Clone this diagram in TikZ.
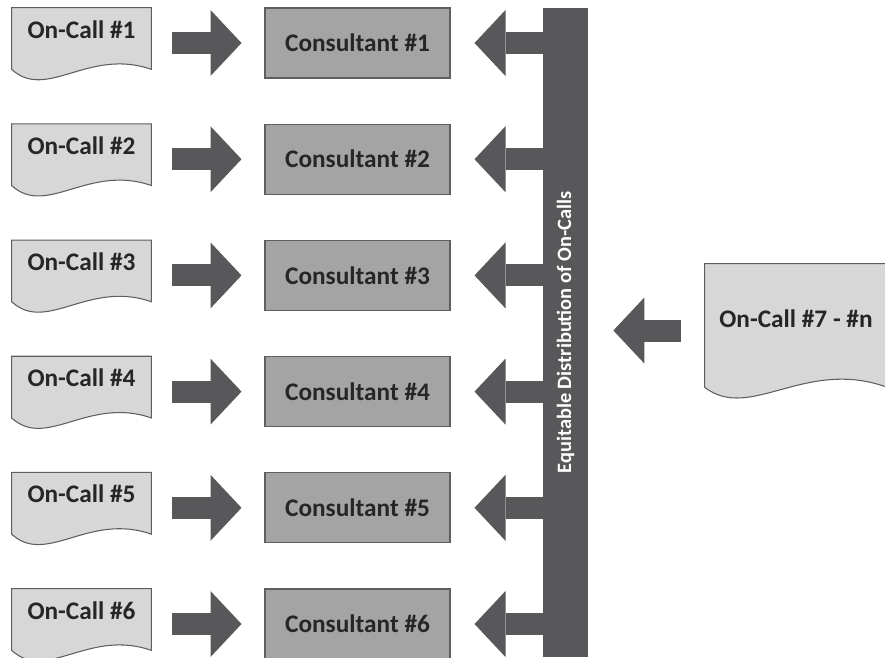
\documentclass[tikz,border=0pt]{standalone}
\usepackage{fontspec}
\setmainfont{Carlito}
\usetikzlibrary{arrows.meta,calc,backgrounds}

\definecolor{docgray}{HTML}{D7D7D7}
\definecolor{boxgray}{HTML}{A4A4A4}
\definecolor{darkgray}{HTML}{58585A}
\definecolor{edgegray}{HTML}{5E5E5E}
\definecolor{inkgray}{HTML}{262626}

\tikzset{
  oncall/.style={inner sep=0pt, minimum width=2.78cm, text height=0.6cm, text depth=0.8cm,
    font=\bfseries\fontsize{14.4}{16}\selectfont, text=inkgray},
  consultant/.style={draw=edgegray, line width=0.6pt, fill=boxgray, inner sep=0pt,
    minimum width=3.7cm, minimum height=1.4cm, font=\bfseries\fontsize{14.4}{16}\selectfont, text=inkgray},
  docshape/.style={draw=edgegray, line width=0.6pt, fill=docgray},
  bar/.style={fill=darkgray, inner sep=0pt, minimum width=0.9cm, minimum height=12.98cm},
  barlabel/.style={text=white, inner sep=0pt, font=\bfseries\fontsize{11.6}{13}\selectfont},
  fatarrow/.style={draw=darkgray, line width=0.44cm,
    -{Triangle[width=1.32cm, length=0.62cm, line width=0pt]}}
}

\begin{document}
\begin{tikzpicture}[x=0.02cm, y=-0.02cm]
  \useasboundingbox (0,0) rectangle (885,657);

  % distribution bar
  \node[bar] (bar) at (565.5,332.5) {};

  \foreach \i in {1,...,6} {
    \pgfmathsetmacro\y{43+116.2*(\i-1)}
    \node[oncall] (oc\i) at (81.5,\y) {On-Call \#\i};
    \node[consultant] (c\i) at (357.5,\y) {Consultant \#\i};
    \draw[fatarrow, shorten <=0.42cm, shorten >=0.46cm] (oc\i.east) -- (c\i.west);
    \draw[fatarrow, shorten >=0.48cm] (bar.center |- c\i.east) -- (c\i.east);
  }

  \node[barlabel, rotate=90] (barname) at (bar.center) {Equitable Distribution of On-Calls};

  % the rest of the on-calls
  \node[oncall, minimum width=3.64cm, text height=1.26cm, text depth=1.4cm] (oc7) at (796,330.5) {On-Call \#7 - \#n};
  \draw[fatarrow, shorten <=0.48cm, shorten >=0.5cm] (oc7.west) -- (bar.east |- oc7.west);

  \begin{scope}[on background layer]
    \foreach \i in {1,...,6}
      \path[docshape] (oc\i.north west) -- (oc\i.north east) -- ($(oc\i.south east)+(0,-9)$)
        .. controls ($(oc\i.south east)!.45!(oc\i.south west)+(0,-31)$) and ($(oc\i.south east)!.75!(oc\i.south west)+(0,23)$)
        .. ($(oc\i.south west)+(0,-9)$) -- cycle;
    \path[docshape] (oc7.north west) -- (oc7.north east) -- ($(oc7.south east)+(0,-10)$)
      .. controls ($(oc7.south east)!.45!(oc7.south west)+(0,-40)$) and ($(oc7.south east)!.75!(oc7.south west)+(0,25)$)
      .. ($(oc7.south west)+(0,-10)$) -- cycle;
  \end{scope}
\end{tikzpicture}
\end{document}
